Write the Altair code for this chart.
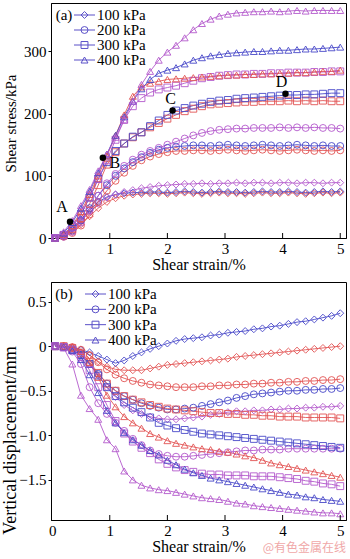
import altair as alt
import pandas as pd

# ---------------- data ----------------
STRAIN = [0.05, 0.2, 0.35, 0.5, 0.65, 0.8, 0.95, 1.1, 1.25, 1.4, 1.55, 1.7, 1.85, 2.0, 2.15, 2.3, 2.45,
          2.6, 2.75, 2.9, 3.05, 3.2, 3.35, 3.5, 3.65, 3.8, 3.95, 4.1, 4.25, 4.4, 4.55, 4.7, 4.85, 5.0]
PRESSURES = ["100 kPa", "200 kPa", "300 kPa", "400 kPa"]
GROUPS = ["purple", "blue", "red"]
COLORS = ["#b359cc", "#4848c8", "#e25454"]
SHAPES = ["diamond", "circle", "square", "triangle-up"]

# (a) shear stress, kPa
STRESS_PURPLE_100 = [0, 4, 14, 28, 42, 55, 65, 70, 74, 77, 80, 82, 84, 85, 86, 87, 87, 88, 87, 88, 88, 89, 88, 89, 89, 88, 89, 89, 88, 89, 89, 88, 89, 89]
STRESS_BLUE_100 = [0, 5, 15, 30, 45, 58, 66, 70, 72, 73, 73, 74, 74, 73, 74, 75, 74, 73, 74, 75, 74, 74, 73, 74, 75, 74, 74, 75, 74, 73, 74, 75, 74, 75]
STRESS_RED_100 = [0, 3, 10, 22, 35, 48, 58, 64, 68, 70, 71, 72, 72, 71, 72, 73, 72, 71, 72, 73, 72, 72, 71, 72, 73, 72, 72, 73, 72, 71, 72, 73, 72, 73]
STRESS_PURPLE_200 = [0, 2, 10, 25, 45, 68, 88, 103, 116, 126, 134, 140, 145, 150, 155, 160, 165, 169, 172, 174, 175, 176, 176, 177, 177, 177, 178, 177, 178, 177, 178, 177, 177, 176]
STRESS_BLUE_200 = [0, 3, 12, 28, 48, 68, 85, 100, 112, 122, 130, 137, 142, 145, 147, 148, 149, 149, 148, 149, 150, 149, 148, 149, 150, 149, 148, 149, 150, 149, 148, 149, 148, 148]
STRESS_RED_200 = [0, 2, 8, 20, 38, 58, 76, 92, 105, 116, 125, 131, 135, 138, 140, 140, 141, 141, 140, 141, 142, 141, 140, 141, 142, 141, 140, 141, 142, 141, 140, 141, 140, 141]
STRESS_PURPLE_300 = [0, 5, 18, 38, 65, 95, 125, 158, 190, 212, 225, 234, 239, 242, 245, 249, 253, 257, 259, 261, 262, 263, 263, 264, 264, 265, 265, 266, 266, 266, 267, 267, 268, 268]
STRESS_BLUE_300 = [0, 5, 18, 38, 65, 95, 122, 140, 152, 163, 170, 180, 189, 198, 205, 209, 213, 216, 219, 221, 222, 224, 225, 226, 227, 228, 229, 230, 230, 231, 231, 232, 233, 233]
STRESS_RED_300 = [0, 4, 14, 32, 55, 85, 118, 138, 152, 162, 170, 178, 185, 192, 198, 204, 208, 212, 215, 216, 217, 218, 219, 219, 220, 220, 220, 221, 220, 221, 220, 221, 220, 220]
STRESS_PURPLE_400 = [0, 10, 28, 52, 78, 108, 135, 162, 190, 220, 247, 268, 286, 299, 310, 322, 335, 345, 352, 357, 360, 362, 363, 364, 364, 365, 364, 365, 366, 365, 366, 366, 366, 366]
STRESS_BLUE_400 = [0, 8, 25, 48, 75, 105, 135, 165, 195, 220, 240, 255, 265, 270, 274, 280, 286, 290, 293, 295, 297, 298, 299, 300, 300, 301, 302, 302, 303, 304, 304, 305, 306, 307]
STRESS_RED_400 = [0, 6, 20, 42, 70, 100, 132, 165, 198, 228, 243, 249, 252, 255, 256, 257, 258, 259, 260, 261, 262, 262, 263, 263, 264, 264, 265, 265, 266, 266, 267, 268, 268, 270]

# (b) vertical displacement, mm
DISP_PURPLE_100 = [0, 0, -0.02, -0.08, -0.2, -0.33, -0.46, -0.57, -0.66, -0.72, -0.76, -0.79, -0.81, -0.82, -0.82, -0.81, -0.8, -0.79, -0.77, -0.76, -0.74, -0.73, -0.73, -0.72, -0.72, -0.71, -0.71, -0.7, -0.7, -0.69, -0.69, -0.68, -0.68, -0.67]
DISP_BLUE_100 = [0, 0, -0.02, -0.04, -0.07, -0.11, -0.15, -0.19, -0.16, -0.11, -0.07, -0.03, 0.0, 0.03, 0.06, 0.08, 0.09, 0.1, 0.12, 0.13, 0.15, 0.16, 0.17, 0.19, 0.2, 0.22, 0.23, 0.25, 0.27, 0.28, 0.3, 0.32, 0.34, 0.37]
DISP_RED_100 = [0, 0, -0.01, -0.04, -0.1, -0.17, -0.23, -0.26, -0.27, -0.27, -0.27, -0.25, -0.23, -0.21, -0.2, -0.19, -0.18, -0.17, -0.16, -0.15, -0.14, -0.12, -0.11, -0.1, -0.09, -0.08, -0.07, -0.06, -0.05, -0.04, -0.03, -0.02, -0.01, 0.0]
DISP_PURPLE_200 = [0, -0.01, -0.06, -0.2, -0.46, -0.64, -0.76, -0.86, -0.95, -1.04, -1.11, -1.17, -1.21, -1.23, -1.24, -1.24, -1.23, -1.22, -1.21, -1.2, -1.19, -1.18, -1.17, -1.17, -1.16, -1.16, -1.16, -1.15, -1.15, -1.15, -1.15, -1.15, -1.15, -1.15]
DISP_BLUE_200 = [0, -0.01, -0.04, -0.1, -0.2, -0.31, -0.42, -0.5, -0.56, -0.6, -0.64, -0.67, -0.69, -0.71, -0.71, -0.7, -0.69, -0.67, -0.65, -0.63, -0.61, -0.58, -0.56, -0.54, -0.53, -0.52, -0.51, -0.5, -0.5, -0.49, -0.49, -0.48, -0.48, -0.47]
DISP_RED_200 = [0, 0, -0.01, -0.04, -0.1, -0.18, -0.26, -0.32, -0.36, -0.39, -0.41, -0.43, -0.44, -0.45, -0.46, -0.46, -0.46, -0.45, -0.45, -0.44, -0.44, -0.43, -0.43, -0.42, -0.42, -0.41, -0.41, -0.4, -0.4, -0.39, -0.39, -0.38, -0.38, -0.37]
DISP_PURPLE_300 = [0, -0.01, -0.04, -0.12, -0.27, -0.46, -0.66, -0.84, -0.98, -1.07, -1.14, -1.2, -1.27, -1.32, -1.36, -1.39, -1.41, -1.43, -1.44, -1.44, -1.45, -1.45, -1.45, -1.46, -1.46, -1.46, -1.47, -1.48, -1.49, -1.51, -1.52, -1.54, -1.55, -1.57]
DISP_BLUE_300 = [0, -0.01, -0.04, -0.1, -0.2, -0.33, -0.46, -0.56, -0.63, -0.69, -0.74, -0.8, -0.86, -0.89, -0.92, -0.94, -0.96, -0.98, -0.99, -1.0, -1.01, -1.02, -1.03, -1.04, -1.05, -1.06, -1.07, -1.08, -1.09, -1.1, -1.11, -1.12, -1.13, -1.14]
DISP_RED_300 = [0, 0, -0.02, -0.08, -0.18, -0.3, -0.42, -0.5, -0.56, -0.6, -0.63, -0.66, -0.68, -0.7, -0.71, -0.72, -0.73, -0.74, -0.75, -0.75, -0.76, -0.76, -0.77, -0.77, -0.78, -0.78, -0.79, -0.79, -0.79, -0.8, -0.8, -0.8, -0.8, -0.81]
DISP_PURPLE_400 = [0, -0.02, -0.2, -0.55, -0.7, -0.82, -1.05, -1.15, -1.4, -1.5, -1.56, -1.59, -1.61, -1.62, -1.64, -1.66, -1.68, -1.7, -1.71, -1.72, -1.74, -1.76, -1.77, -1.79, -1.8, -1.81, -1.82, -1.83, -1.84, -1.85, -1.86, -1.87, -1.87, -1.88]
DISP_BLUE_400 = [0, -0.01, -0.05, -0.15, -0.32, -0.52, -0.72, -0.86, -0.97, -1.05, -1.11, -1.17, -1.22, -1.28, -1.33, -1.38, -1.42, -1.45, -1.48, -1.5, -1.52, -1.54, -1.56, -1.58, -1.6, -1.62, -1.64, -1.66, -1.67, -1.69, -1.7, -1.72, -1.73, -1.74]
DISP_RED_400 = [0, 0, -0.01, -0.06, -0.18, -0.35, -0.55, -0.68, -0.79, -0.86, -0.92, -0.98, -1.02, -1.06, -1.09, -1.11, -1.13, -1.15, -1.16, -1.18, -1.19, -1.21, -1.23, -1.25, -1.28, -1.31, -1.33, -1.35, -1.37, -1.39, -1.41, -1.43, -1.45, -1.47]

# marked points on (a)
MARK_LABELS = ["A", "B", "C", "D"]
MARK_X = [0.31, 0.88, 2.09, 4.05]
MARK_Y = [26, 129, 205, 232]
MARK_DX = [-8, 12, -2, -4]
MARK_DY = [-15, 5, -12, -12]

X_TICKS_TOP = [1, 2, 3, 4, 5]
X_TICKS_BOTTOM = [0, 1, 2, 3, 4, 5]
Y_TICKS_TOP = [0, 50, 100, 150, 200, 250, 300, 350]
Y_TICKS_BOTTOM = [-1.5, -1.0, -0.5, 0, 0.5]
WATERMARK = "@有色金属在线"

SERIF = "Liberation Serif"
LEG_COLOR = "#5a50c8"
W = 295
H_TOP = 235
H_BOT = 238


def long_df(series):
    rows = []
    for grp, p, vals in series:
        assert len(vals) == len(STRAIN)
        for x, v in zip(STRAIN, vals):
            rows.append({"x": x, "v": v, "grp": grp, "p": p, "sid": grp + p})
    return pd.DataFrame(rows)


top_df = long_df([
    ("red", "100 kPa", STRESS_RED_100), ("blue", "100 kPa", STRESS_BLUE_100), ("purple", "100 kPa", STRESS_PURPLE_100),
    ("red", "200 kPa", STRESS_RED_200), ("blue", "200 kPa", STRESS_BLUE_200), ("purple", "200 kPa", STRESS_PURPLE_200),
    ("red", "300 kPa", STRESS_RED_300), ("blue", "300 kPa", STRESS_BLUE_300), ("purple", "300 kPa", STRESS_PURPLE_300),
    ("red", "400 kPa", STRESS_RED_400), ("blue", "400 kPa", STRESS_BLUE_400), ("purple", "400 kPa", STRESS_PURPLE_400),
])
bot_df = long_df([
    ("red", "100 kPa", DISP_RED_100), ("blue", "100 kPa", DISP_BLUE_100), ("purple", "100 kPa", DISP_PURPLE_100),
    ("red", "200 kPa", DISP_RED_200), ("blue", "200 kPa", DISP_BLUE_200), ("purple", "200 kPa", DISP_PURPLE_200),
    ("red", "300 kPa", DISP_RED_300), ("blue", "300 kPa", DISP_BLUE_300), ("purple", "300 kPa", DISP_PURPLE_300),
    ("red", "400 kPa", DISP_RED_400), ("blue", "400 kPa", DISP_BLUE_400), ("purple", "400 kPa", DISP_PURPLE_400),
])

color_scale = alt.Scale(domain=GROUPS, range=COLORS)
shape_scale = alt.Scale(domain=PRESSURES, range=SHAPES)


def panel(df, ydom, yticks, ytitle, ytitle_size, ytitle_y, H, xticks, tag, leg_x0, leg_rows, label_expr=None):
    xenc = alt.X("x:Q", scale=alt.Scale(domain=[-0.02, 5.1], nice=False, zero=False),
                 axis=alt.Axis(values=xticks, title="Shear strain/%", tickSize=0, labelPadding=3,
                               titlePadding=0, format="d", grid=False,
                               labelFont=SERIF, labelFontSize=15, titleFont=SERIF, titleFontSize=16,
                               titleFontWeight="normal", labelColor="black", titleColor="black"))
    yaxis = dict(values=yticks, title=ytitle, tickSize=3, labelPadding=2, grid=False,
                 titleFontSize=ytitle_size, titleX=-41, titleY=ytitle_y, titleAngle=-90,
                 titleAlign="center", titleBaseline="middle",
                 labelFont=SERIF, labelFontSize=15, titleFont=SERIF,
                 titleFontWeight="normal", labelColor="black", titleColor="black")
    if label_expr:
        yaxis["labelExpr"] = label_expr
    yenc = alt.Y("v:Q", scale=alt.Scale(domain=ydom, nice=False, zero=False), axis=alt.Axis(**yaxis))

    lines = alt.Chart(df).mark_line(strokeWidth=0.9).encode(
        x=xenc, y=yenc, color=alt.Color("grp:N", scale=color_scale, legend=None),
        detail="sid:N", order="x:Q")
    pts = alt.Chart(df).mark_point(filled=False, size=48, strokeWidth=0.9, opacity=1).encode(
        x=xenc, y=yenc, color=alt.Color("grp:N", scale=color_scale, legend=None),
        shape=alt.Shape("p:N", scale=shape_scale, legend=None))
    ticks = alt.Chart(pd.DataFrame({"x": X_TICKS_TOP})).mark_rule(color="black", strokeWidth=1).encode(
        x=xenc, y=alt.value(H), y2=alt.value(H - 5))
    tag_layer = alt.Chart(pd.DataFrame({"t": [tag]})).mark_text(
        font=SERIF, fontSize=15, align="center", baseline="middle", color="black").encode(
        x=alt.value(13), y=alt.value(12), text="t:N")

    leg_df = pd.DataFrame({"p": PRESSURES})
    leg_y = alt.Y("p:N", scale=alt.Scale(type="point", domain=PRESSURES, range=leg_rows, padding=0), axis=None)
    leg_line = alt.Chart(leg_df).mark_rule(color=LEG_COLOR, strokeWidth=1).encode(
        x=alt.value(leg_x0), x2=alt.value(leg_x0 + 21), y=leg_y)
    leg_pt = alt.Chart(leg_df).mark_point(filled=False, size=48, strokeWidth=1, color=LEG_COLOR, opacity=1).encode(
        x=alt.value(leg_x0 + 10.5), y=leg_y, shape=alt.Shape("p:N", scale=shape_scale, legend=None))
    leg_txt = alt.Chart(leg_df).mark_text(font=SERIF, fontSize=15, align="left", baseline="middle",
                                          color="black").encode(
        x=alt.value(leg_x0 + 23), y=leg_y, text="p:N")
    legend = alt.layer(leg_line, leg_pt, leg_txt)
    return [lines, pts, ticks, tag_layer], legend


# ---- top panel
top_layers, top_leg = panel(top_df, [0, 378], Y_TICKS_TOP, "Shear stress/kPa", 15, 120, H_TOP,
                            X_TICKS_TOP, "(a)", 23, [12, 57])
mark_df = pd.DataFrame({"x": MARK_X, "v": MARK_Y, "lab": MARK_LABELS})
xm = alt.X("x:Q", scale=alt.Scale(domain=[-0.02, 5.1], nice=False, zero=False))
ym = alt.Y("v:Q", scale=alt.Scale(domain=[0, 378], nice=False, zero=False))
dots = alt.Chart(mark_df).mark_circle(size=42, color="black", opacity=1).encode(x=xm, y=ym)
mark_txt = []
for lab, dx, dy in zip(MARK_LABELS, MARK_DX, MARK_DY):
    mark_txt.append(
        alt.Chart(mark_df).transform_filter(alt.datum.lab == lab).mark_text(
            font=SERIF, fontSize=16, dx=dx, dy=dy, color="black", baseline="middle", align="center").encode(
            x=xm, y=ym, text="lab:N"))
top_main = alt.layer(*top_layers, dots, *mark_txt)
top = alt.layer(top_main, top_leg).resolve_scale(y="independent").properties(width=W, height=H_TOP)

# ---- bottom panel
bot_layers, bot_leg = panel(bot_df, [-1.95, 0.72], Y_TICKS_BOTTOM, "Vertical displacement/mm", 18, 158, H_BOT,
                            X_TICKS_BOTTOM, "(b)", 34, [12, 58],
                            label_expr="datum.value == 0 ? '0' : format(datum.value, '.1f')")
wm = alt.Chart(pd.DataFrame({"t": [WATERMARK]})).mark_text(
    font="Noto Sans CJK SC", fontSize=12, align="right", baseline="middle", color="#f0a8a8").encode(
    x=alt.value(W), y=alt.value(H_BOT + 28), text="t:N")
bot_main = alt.layer(*bot_layers, wm)
bottom = alt.layer(bot_main, bot_leg).resolve_scale(y="independent").properties(width=W, height=H_BOT)

chart = alt.vconcat(top, bottom, spacing=8).properties(
    padding={"left": 0, "top": 2, "right": 2, "bottom": 0}, background="white"
).configure_view(stroke="black", strokeWidth=1).configure_axis(
    labelFont=SERIF, labelFontSize=15, labelColor="black",
    titleFont=SERIF, titleFontSize=16, titleFontWeight="normal", titleColor="black",
    domainColor="black", tickColor="black", domainWidth=1
)

chart.save("out.html", embed_options={"renderer": "svg", "actions": False})
